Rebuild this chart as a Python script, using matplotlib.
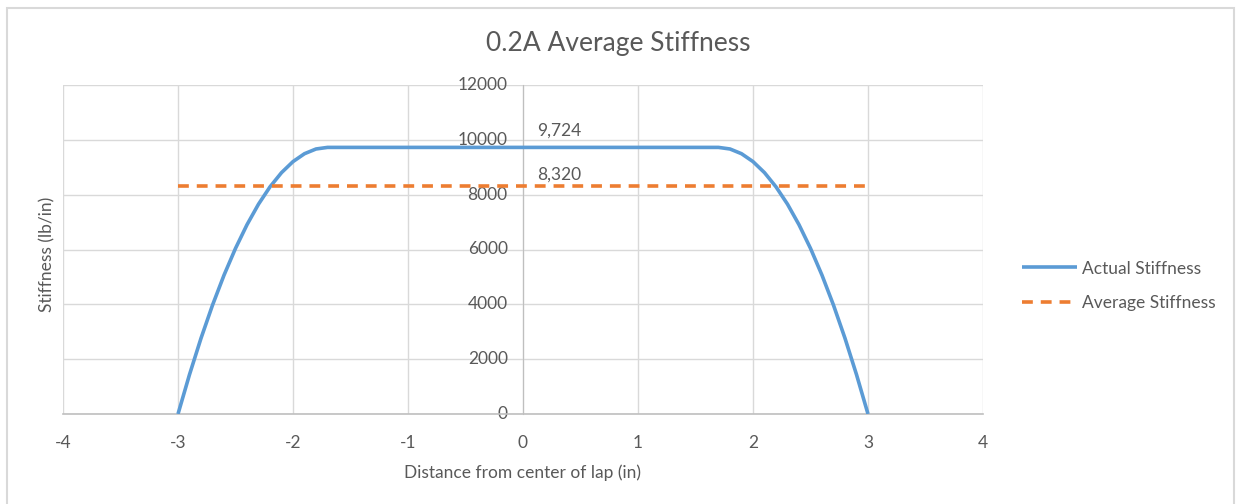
import numpy as np
import matplotlib.pyplot as plt
from matplotlib.patches import Rectangle

plt.rcParams['font.family'] = ['Lato', 'DejaVu Sans']
plt.rcParams['axes.unicode_minus'] = False

# stiffness across the lap (in, lb/in)
x_in = [-3.0, -2.9, -2.8, -2.7, -2.6, -2.5, -2.4, -2.3, -2.2, -2.1, -2.0, -1.9, -1.8, -1.7,
        0.0,
        1.7, 1.8, 1.9, 2.0, 2.1, 2.2, 2.3, 2.4, 2.5, 2.6, 2.7, 2.8, 2.9, 3.0]
stiffness = [0, 1438, 2762, 3970, 5063, 6041, 6904, 7653, 8285, 8803, 9206, 9494, 9666, 9724,
             9724,
             9724, 9666, 9494, 9206, 8803, 8285, 7653, 6904, 6041, 5063, 3970, 2762, 1438, 0]
avg_x = [-3.0, 0.0, 3.0]
avg_stiffness = [8320, 8320, 8320]
peak_label = 9724
avg_label = 8320

text_col = '#595959'
grid_col = '#d9d9d9'

fig = plt.figure(figsize=(12.36, 5.04), dpi=100)
fig.patches.append(Rectangle((7 / 1236, -0.1), 1227 / 1236, 1.1 - 8 / 504,
                             transform=fig.transFigure, fill=False,
                             edgecolor=grid_col, linewidth=1.5))

ax = fig.add_axes([63 / 1236, 90 / 504, 920 / 1236, 329 / 504])

ax.plot(x_in, stiffness, color='#5b9bd5', linewidth=2.6, label='Actual Stiffness',
        solid_capstyle='butt', solid_joinstyle='round', zorder=3)
ax.plot(avg_x, avg_stiffness, color='#ed7d31', linewidth=2.6, linestyle=(0, (3, 2.2)),
        label='Average Stiffness', zorder=3)

ax.text(0.12, peak_label + 620, f'{peak_label:,}', color=text_col, fontsize=12.5,
        ha='left', va='center')
ax.text(0.12, avg_label + 400, f'{avg_label:,}', color=text_col, fontsize=12.5,
        ha='left', va='center')

ax.set_xlim(-4, 4)
ax.set_ylim(0, 12000)
ax.set_xticks(np.arange(-4, 5, 1))
ax.set_yticks(np.arange(0, 12001, 2000))
ax.grid(True, color=grid_col, linewidth=1)
ax.set_axisbelow(True)

for s in ['top', 'right']:
    ax.spines[s].set_visible(False)
ax.spines['left'].set_position(('data', 0))
ax.spines['left'].set_color('#bfbfbf')
ax.spines['bottom'].set_color('#bfbfbf')
ax.spines['bottom'].set_linewidth(1.2)

ax.tick_params(axis='y', length=0, pad=11, labelsize=12.5, labelcolor=text_col)
ax.tick_params(axis='x', length=0, pad=15, labelsize=12.5, labelcolor=text_col)
ax.set_yticklabels([str(v) for v in range(0, 12001, 2000)])
for lbl in ax.get_yticklabels():
    lbl.set_verticalalignment('center')

fig.text(0.5, 1 - 43 / 504, '0.2A Average Stiffness', fontsize=19, color=text_col,
         ha='center', va='center')
ax.set_xlabel('Distance from center of lap (in)', fontsize=12.5, color=text_col, labelpad=10)
fig.text(47 / 1236, 250 / 504, 'Stiffness (lb/in)', rotation=90, fontsize=12.5,
         color=text_col, ha='center', va='center')

leg = ax.legend(loc='center left', bbox_to_anchor=(1.025, 0.39), frameon=False,
                fontsize=12.5, handlelength=3.2, labelspacing=1.05, handletextpad=0.3)
for t in leg.get_texts():
    t.set_color(text_col)

fig.savefig('out.png', dpi=100)
